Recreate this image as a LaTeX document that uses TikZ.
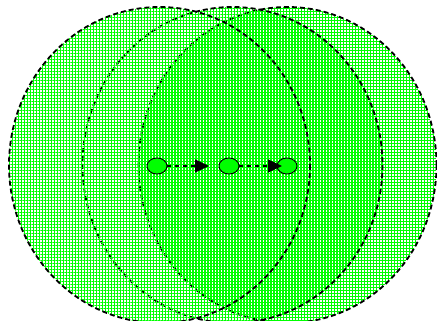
\documentclass[tikz,border=0pt]{standalone}
\usetikzlibrary{patterns.meta,shapes.geometric,arrows.meta}
\definecolor{limeg}{RGB}{0,255,0}
\begin{document}
\begin{tikzpicture}[x=1pt,y=-1pt,
  hatchH/.style={pattern={Lines[distance=3pt,angle=0,line width=1pt]},pattern color=limeg},
  hatchV/.style={pattern={Lines[distance=3pt,angle=90,line width=1pt]},pattern color=limeg},
  hatchVs/.style={pattern={Lines[distance=3pt,angle=90,line width=1pt,xshift=1pt,yshift=1pt]},pattern color=limeg},
  rim/.style={draw=black,line width=1.8pt,dash pattern=on 5pt off 3pt},
  dot/.style={ellipse,draw=black,line width=0.9pt,fill=limeg,minimum width=20pt,minimum height=16pt,inner sep=0pt},
  flow/.style={draw=black,line width=1.2pt,dash pattern=on 4pt off 4pt,-{Triangle[length=14pt,width=13pt]}}]
\useasboundingbox (0,0) rectangle (437,321);
% right area
\fill[hatchH] (287.5,165) ellipse [x radius=149, y radius=158];
\fill[hatchVs] (287.5,165) ellipse [x radius=149, y radius=158];
\path[rim] (287.5,165) ellipse [x radius=149, y radius=158];
% middle area
\fill[hatchH] (232.5,165) ellipse [x radius=150, y radius=158];
\fill[hatchV] (232.5,165) ellipse [x radius=150, y radius=158];
\path[rim] (232.5,165) ellipse [x radius=150, y radius=158];
% left area
\fill[hatchH] (159.5,165) ellipse [x radius=150.5, y radius=158];
\fill[hatchV] (159.5,165) ellipse [x radius=150.5, y radius=158];
\path[rim] (159.5,165) ellipse [x radius=150.5, y radius=158];
% centres
\node[dot] (a) at (157,166) {};
\node[dot] (b) at (229,166) {};
\node[dot] (c) at (287,166) {};
\coordinate (ta) at (209,166);
\coordinate (tc) at (282,166);
\draw[flow] (a) -- (ta);
\draw[flow] (b) -- (tc);
\end{tikzpicture}
\end{document}
